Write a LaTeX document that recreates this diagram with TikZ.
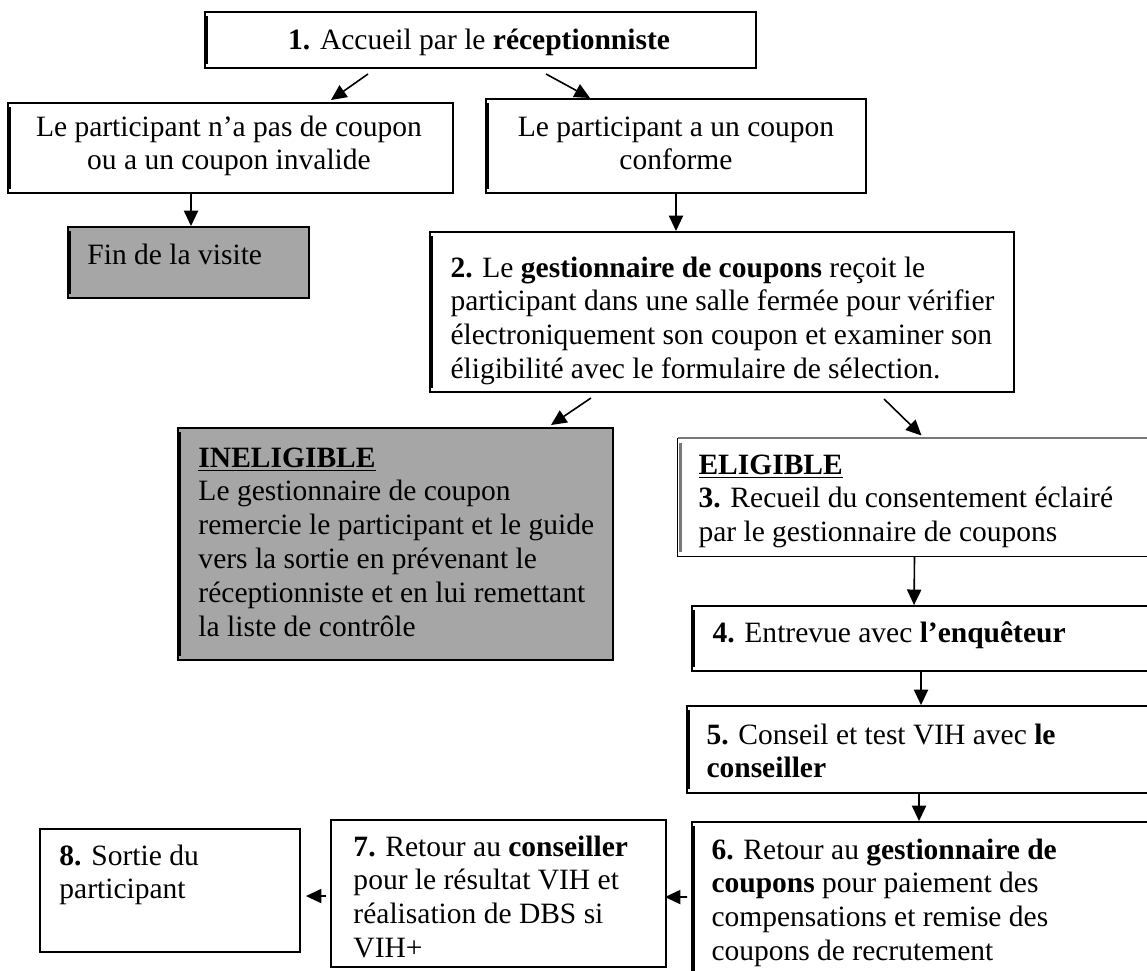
\documentclass[tikz,border=0pt]{standalone}
\usepackage{fontspec}
\setmainfont{Liberation Serif}
\usetikzlibrary{arrows.meta,calc,fit}
\definecolor{boxgrey}{RGB}{166,166,166}
\definecolor{edgegrey}{RGB}{120,120,120}
\newcommand{\fsz}{\fontsize{12}{13.75}\selectfont}
\begin{document}
\begin{tikzpicture}[x=0.4067pt,y=-0.4067pt,
  box/.style={draw=black,line width=0.8pt,inner sep=0pt,rectangle},
  greybox/.style={box,fill=boxgrey},
  txt/.style={inner sep=0pt,anchor=north west,align=left,font=\fsz},
  ctxt/.style={inner sep=0pt,anchor=north,align=center,font=\fsz},
  arr/.style={line width=0.65pt,-{Triangle[length=6.3pt,width=5.8pt]}},
  ledge/.style={line width=1.4pt}
]
\useasboundingbox (0,0) rectangle (1147,970);
\clip (0,0) rectangle (1147,970);
\fill[white] (0,0) rectangle (1147,970);

% boxes
\node[box,fit={(205,12) (756,68)}] (b1) {};
\node[box,fit={(8,103) (453,193)}] (bA) {};
\node[box,fit={(486,99) (866,193)}] (bB) {};
\node[greybox,fit={(68,227) (309,298)}] (fin) {};
\node[box,fit={(430,232) (1014,392)}] (b2) {};
\node[greybox,fit={(178,428) (613,660)}] (inel) {};
\node[draw=none,inner sep=0pt,fit={(678,438) (1180,556)}] (elig) {};
\draw[edgegrey,line width=0.8pt] (elig.south east) -- (elig.north east) -- (elig.north west);
\draw[black,line width=0.6pt] (elig.north west) -- (elig.south west) -- (elig.south east);
\node[box,fit={(692,606) (1180,671)}] (b4) {};
\node[box,fit={(687,706) (1180,793)}] (b5) {};
\node[box,fit={(692,822) (1180,1010)}] (b6) {};
\node[box,fit={(331,820) (666,967)}] (b7) {};
\node[box,fit={(40,829) (300,952)}] (b8) {};

% thicker left edges
\foreach \b in {b1,bA,bB,fin,b2,inel,b4,b5,b6}{
  \draw[ledge] ($(\b.north west)+(2,5)$) -- ($(\b.south west)+(2,-5)$);
}
\draw[ledge,edgegrey] ($(elig.north west)+(3,5)$) -- ($(elig.south west)+(3,-5)$);

% texts
\node[inner sep=0pt,anchor=base,font=\fsz] (t1) at (479,49) {\textbf{1.} Accueil par le \textbf{réceptionniste}};
\node[ctxt] (tA) at (229,112) {\strut Le participant n’a pas de coupon\\ou a un coupon invalide};
\node[ctxt] (tB) at (676,112) {\strut Le participant a un coupon\\conforme};
\node[txt] (tfin) at (87,240) {\strut Fin de la visite};
\node[txt] (t2) at (450,253) {\strut\textbf{2.} Le \textbf{gestionnaire de coupons} reçoit le\\participant dans une salle fermée pour vérifier\\électroniquement son coupon et examiner son\\éligibilité avec le formulaire de sélection.};
\node[txt] (tinel) at (198,443) {\strut\underline{\textbf{INELIGIBLE}}\\Le gestionnaire de coupon\\remercie le participant et le guide\\vers la sortie en prévenant le\\réceptionniste et en lui remettant\\la liste de contrôle};
\node[txt] (telig) at (698,450) {\strut\underline{\textbf{ELIGIBLE}}\\\textbf{3.} Recueil du consentement éclairé\\par le gestionnaire de coupons};
\node[txt] (t4) at (712,618) {\strut\textbf{4.} Entrevue avec \textbf{l’enquêteur}};
\node[txt] (t5) at (706,720) {\strut\textbf{5.} Conseil et test VIH avec \textbf{le}\\\textbf{conseiller}};
\node[txt] (t6) at (711,835) {\strut\textbf{6.} Retour au \textbf{gestionnaire de}\\\textbf{coupons} pour paiement des\\compensations et remise des\\coupons de recrutement};
\node[txt] (t7) at (353,832) {\strut\textbf{7.} Retour au \textbf{conseiller}\\pour le résultat VIH et\\réalisation de DBS si\\VIH+};
\node[txt] (t8) at (59,841) {\strut\textbf{8.} Sortie du\\participant};

% connectors
\draw[arr] ($(b1.south west)+(164,5)$) -- ($(bA.north west)+(324,-2)$);
\draw[arr] ($(b1.south west)+(342,5)$) -- ($(bB.north west)+(105,0)$);
\draw[arr] ($(bA.south west)+(184,0)$) -- ($(fin.north west)+(124,0)$);
\draw[arr] (bB.south) -- (b2.north -| bB.south);
\draw[arr] ($(b2.south west)+(162,5)$) -- ($(inel.north west)+(374,-2)$);
\draw[arr] ($(b2.south west)+(455,6)$) -- ($(elig.north west)+(244,-2)$);
\draw[arr] ($(elig.south west)+(237,0)$) -- ($(b4.north west)+(223,0)$);
\draw[arr] ($(b4.south west)+(230,0)$) -- ($(b5.north west)+(235,0)$);
\draw[arr] ($(b5.south west)+(233,0)$) -- ($(b6.north west)+(228,0)$);
\draw[arr] ($(b6.north west)+(-4,76)$) -- ($(b7.north east)+(-2,78)$);
\draw[arr] ($(b7.north west)+(-4,77)$) -- ($(b8.north east)+(5,68)$);
\end{tikzpicture}
\end{document}
